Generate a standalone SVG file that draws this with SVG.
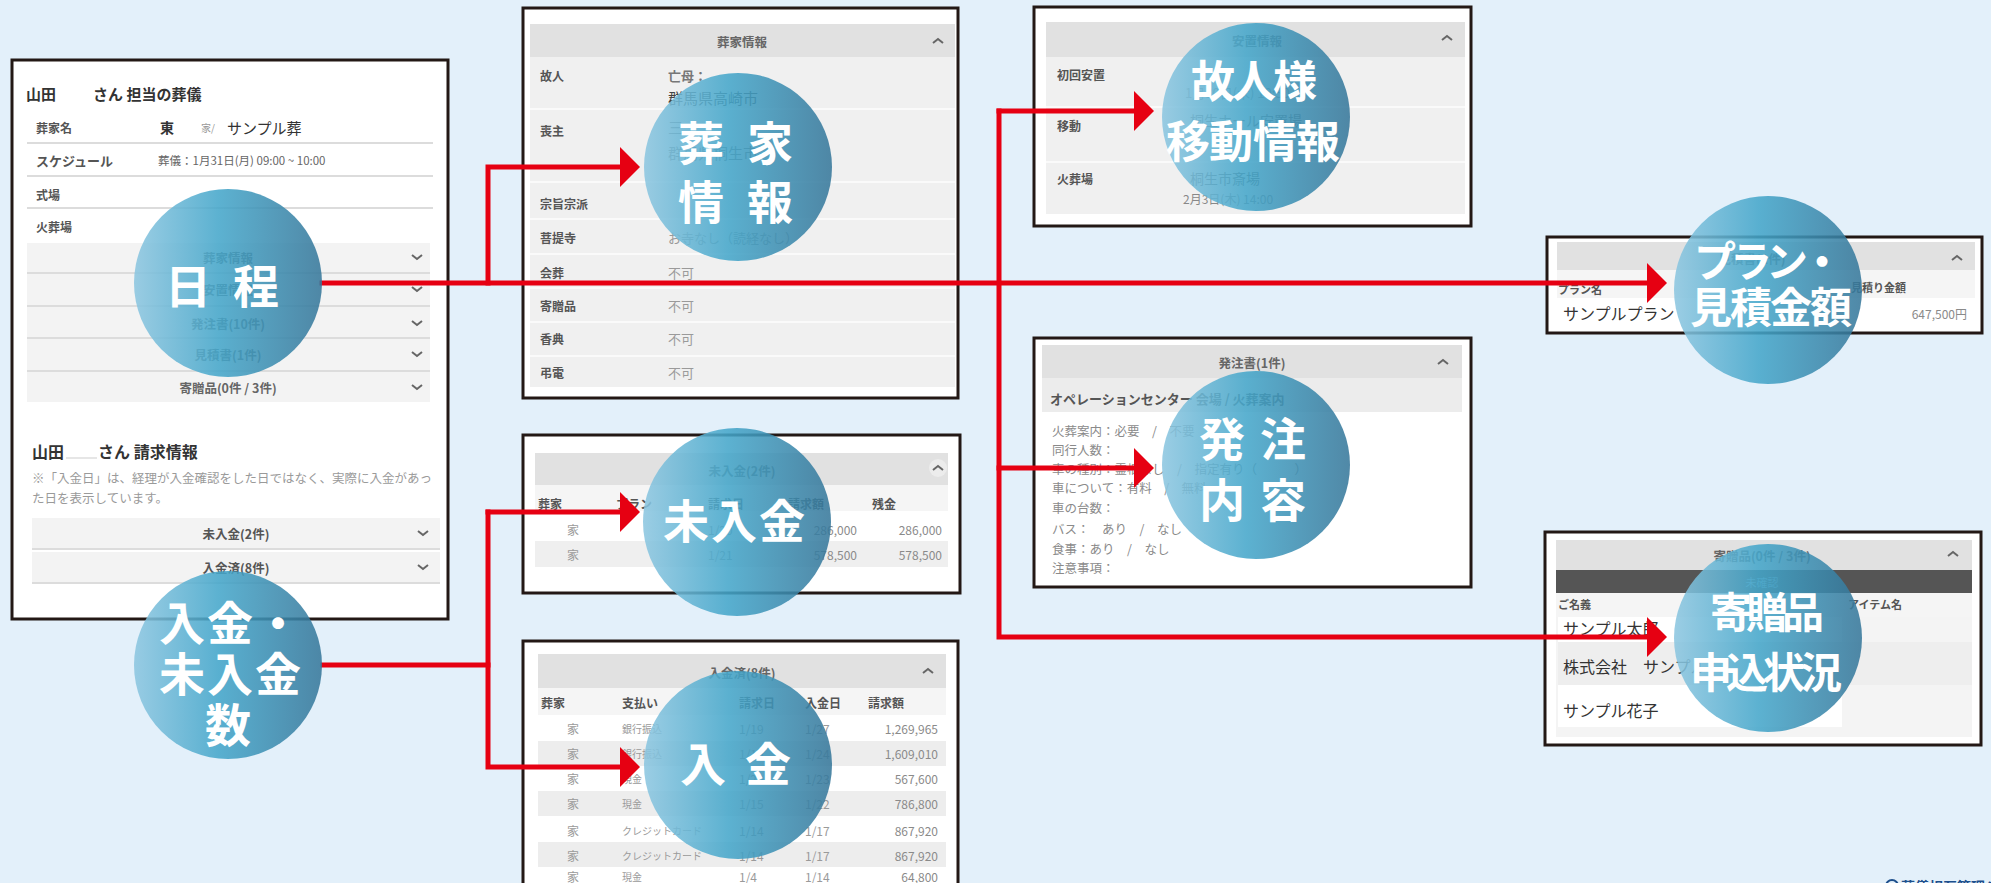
<svg xmlns="http://www.w3.org/2000/svg" width="1991" height="883" viewBox="0 0 1991 883">
<defs>
<style>
.panel{fill:#fff;stroke:#231815;stroke-width:3}
.inner{fill:#f0f0f0}
.hdr{fill:#e1e1e1}
.colh{fill:#f5f5f5}
.alt{fill:#ededed}
.wht{fill:#fff}
.sep{stroke:#dcdcdc;stroke-width:2}
.wsep{stroke:#fafafa;stroke-width:2}
.t{font-family:"Noto Sans CJK JP","Noto Sans",sans-serif;dominant-baseline:central}
.lbl{font-size:12px;font-weight:700;fill:#555}
.val{font-size:12px;fill:#9a9a9a}
.dark{font-size:15px;fill:#333}
.ttl{font-size:12.5px;font-weight:700;fill:#666;text-anchor:middle}
.num{font-size:12px;fill:#8a8a8a;text-anchor:end}
.chev{stroke:#666;stroke-width:2;fill:none}
.conn{stroke:#e60012;stroke-width:5;fill:none;stroke-linecap:square}
.circ{fill:url(#cg);fill-opacity:0.87}
.ct{font-family:"Noto Sans CJK JP","Noto Sans CJK SC",sans-serif;font-weight:700;fill:#fff;text-anchor:middle;dominant-baseline:central}
</style>
<linearGradient id="cg" x1="0" y1="0" x2="1" y2="0">
<stop offset="0" stop-color="#8cc6e0"/>
<stop offset="0.45" stop-color="#44a6ca"/>
<stop offset="1" stop-color="#36779a"/>
</linearGradient>
<marker id="ah" markerUnits="userSpaceOnUse" markerWidth="20" markerHeight="40" viewBox="0 0 20 40" refX="0" refY="20" orient="auto">
<path d="M0,0 L20,20 L0,40 z" fill="#e60012"/>
</marker>
</defs>
<rect x="0" y="0" width="1991" height="883" fill="#e3f0fa"/>

<!-- Left panel -->
<g id="panel-schedule">
<rect class="panel" x="12" y="60" width="436" height="559"/>
<text class="t" x="26" y="93" style="font-size:15px;font-weight:700;fill:#333">山田</text>
<text class="t" x="93" y="93" style="font-size:15px;font-weight:700;fill:#333">さん 担当の葬儀</text>
<text class="t lbl" x="36" y="127">葬家名</text>
<text class="t" x="160" y="127" style="font-size:14px;font-weight:700;fill:#333">東</text>
<text class="t" x="201" y="127" style="font-size:10px;fill:#999">家/</text>
<text class="t dark" x="227" y="127">サンプル葬</text>
<line class="sep" x1="27" y1="143" x2="433" y2="143"/>
<text class="t lbl" x="36" y="160" style="font-size:13px">スケジュール</text>
<text class="t" x="158" y="160" style="font-size:11.5px;fill:#666">葬儀：1月31日(月) 09:00 ~ 10:00</text>
<line class="sep" x1="27" y1="176" x2="433" y2="176"/>
<text class="t lbl" x="36" y="194">式場</text>
<line class="sep" x1="27" y1="208" x2="433" y2="208"/>
<text class="t lbl" x="36" y="226">火葬場</text>
<rect class="inner" x="27" y="243" width="403" height="159" style="fill:#f3f3f3"/>
<line class="sep" x1="27" y1="273" x2="430" y2="273"/>
<line class="sep" x1="27" y1="306" x2="430" y2="306"/>
<line class="sep" x1="27" y1="338" x2="430" y2="338"/>
<line class="sep" x1="27" y1="371" x2="430" y2="371"/>
<text class="t ttl" x="228" y="257">葬家情報</text>
<text class="t ttl" x="228" y="289">安置情報</text>
<text class="t ttl" x="228" y="323">発注書(10件)</text>
<text class="t ttl" x="228" y="354">見積書(1件)</text>
<text class="t ttl" x="228" y="387">寄贈品(0件 / 3件)</text>
<path class="chev" d="M412,255 l5,4 l5,-4 M412,287 l5,4 l5,-4 M412,321 l5,4 l5,-4 M412,352 l5,4 l5,-4 M412,385 l5,4 l5,-4"/>
<text class="t" x="32" y="451" style="font-size:16px;font-weight:700;fill:#333">山田</text>
<line x1="66" y1="458" x2="97" y2="458" stroke="#e6e6e6" stroke-width="2"/>
<text class="t" x="98" y="451" style="font-size:16px;font-weight:700;fill:#333">さん 請求情報</text>
<text class="t" x="32" y="477" style="font-size:12.5px;fill:#9a9a9a">※「入金日」は、経理が入金確認をした日ではなく、実際に入金があっ</text>
<text class="t" x="32" y="497" style="font-size:12.5px;fill:#9a9a9a">た日を表示しています。</text>
<rect x="32" y="518" width="408" height="30" fill="#f3f3f3"/>
<line class="sep" x1="32" y1="549" x2="440" y2="549"/>
<rect x="32" y="552" width="408" height="31" fill="#f3f3f3"/>
<line class="sep" x1="32" y1="583" x2="440" y2="583"/>
<text class="t ttl" x="236" y="533" style="fill:#555">未入金(2件)</text>
<text class="t ttl" x="236" y="567" style="fill:#555">入金済(8件)</text>
<path class="chev" d="M418,531 l5,4 l5,-4 M418,565 l5,4 l5,-4"/>
</g>

<!-- 葬家情報 panel -->
<g id="panel-family">
<rect class="panel" x="523" y="8" width="435" height="390"/>
<rect class="inner" x="530" y="24" width="425" height="363"/>
<rect class="hdr" x="530" y="24" width="425" height="33"/>
<text class="t ttl" x="742" y="41">葬家情報</text>
<path class="chev" d="M933,43 l5,-4 l5,4"/>
<g>
<line class="wsep" x1="530" y1="109" x2="955" y2="109"/>
<line class="wsep" x1="530" y1="182" x2="955" y2="182"/>
<line class="wsep" x1="530" y1="219" x2="955" y2="219"/>
<line class="wsep" x1="530" y1="254" x2="955" y2="254"/>
<line class="wsep" x1="530" y1="288" x2="955" y2="288"/>
<line class="wsep" x1="530" y1="322" x2="955" y2="322"/>
<line class="wsep" x1="530" y1="356" x2="955" y2="356"/>
</g>
<text class="t lbl" x="540" y="75">故人</text>
<text class="t lbl" x="540" y="130">喪主</text>
<text class="t lbl" x="540" y="203">宗旨宗派</text>
<text class="t lbl" x="540" y="237">菩提寺</text>
<text class="t lbl" x="540" y="272">会葬</text>
<text class="t lbl" x="540" y="305">寄贈品</text>
<text class="t lbl" x="540" y="338">香典</text>
<text class="t lbl" x="540" y="372">弔電</text>
<text class="t" x="668" y="75" style="font-size:13px;font-weight:700;fill:#777">亡母：</text>
<text class="t dark" x="668" y="97" style="fill:#444">群馬県高崎市</text>
<text class="t dark" x="668" y="126" style="fill:#777">三</text>
<text class="t dark" x="668" y="152" style="fill:#777">群馬県桐生市</text>
<text class="t val" x="668" y="237" style="font-size:13px">お寺なし（読経なし）</text>
<text class="t val" x="668" y="272" style="font-size:13px">不可</text>
<text class="t val" x="668" y="305" style="font-size:13px">不可</text>
<text class="t val" x="668" y="338" style="font-size:13px">不可</text>
<text class="t val" x="668" y="372" style="font-size:13px">不可</text>
</g>

<!-- 未入金 panel -->
<g id="panel-unpaid">
<rect class="panel" x="523" y="435" width="437" height="158"/>
<rect class="hdr" x="535" y="453" width="413" height="32"/>
<text class="t ttl" x="742" y="470">未入金(2件)</text>
<circle cx="938" cy="468" r="9" fill="#ececec"/>
<path class="chev" d="M933,470 l5,-4 l5,4"/>
<rect class="colh" x="535" y="485" width="413" height="26"/>
<text class="t lbl" x="538" y="503">葬家</text>
<text class="t lbl" x="616" y="503">プラン</text>
<text class="t lbl" x="708" y="503">請求日</text>
<text class="t lbl" x="788" y="503">請求額</text>
<text class="t lbl" x="872" y="503">残金</text>
<rect class="alt" x="535" y="541" width="413" height="26" style="fill:#efefef"/>
<text class="t val" x="567" y="529">家</text>
<text class="t val" x="708" y="529">1/20</text>
<text class="t num" x="857" y="529">286,000</text>
<text class="t num" x="942" y="529">286,000</text>
<text class="t val" x="567" y="554">家</text>
<text class="t val" x="708" y="554">1/21</text>
<text class="t num" x="857" y="554">578,500</text>
<text class="t num" x="942" y="554">578,500</text>
</g>

<!-- 入金 panel -->
<g id="panel-paid">
<rect class="panel" x="523" y="641" width="435" height="260"/>
<rect class="hdr" x="538" y="654" width="408" height="34"/>
<text class="t ttl" x="742" y="672">入金済(8件)</text>
<path class="chev" d="M923,673 l5,-4 l5,4"/>
<rect class="colh" x="538" y="688" width="408" height="27"/>
<text class="t lbl" x="541" y="702">葬家</text>
<text class="t lbl" x="622" y="702">支払い</text>
<text class="t lbl" x="739" y="702">請求日</text>
<text class="t lbl" x="805" y="702">入金日</text>
<text class="t lbl" x="868" y="702">請求額</text>
<rect class="alt" x="538" y="741" width="408" height="25"/>
<rect class="alt" x="538" y="791" width="408" height="25"/>
<rect class="alt" x="538" y="842" width="408" height="25"/>
<g class="val">
<text class="t val" x="567" y="728">家</text><text class="t val" x="622" y="728" style="font-size:10px">銀行振込</text><text class="t val" x="739" y="728">1/19</text><text class="t val" x="805" y="728">1/27</text><text class="t num" x="938" y="728">1,269,965</text>
<text class="t val" x="567" y="753">家</text><text class="t val" x="622" y="753" style="font-size:10px">銀行振込</text><text class="t val" x="739" y="753">1/19</text><text class="t val" x="805" y="753">1/24</text><text class="t num" x="938" y="753">1,609,010</text>
<text class="t val" x="567" y="778">家</text><text class="t val" x="622" y="778" style="font-size:10px">現金</text><text class="t val" x="739" y="778">1/20</text><text class="t val" x="805" y="778">1/23</text><text class="t num" x="938" y="778">567,600</text>
<text class="t val" x="567" y="803">家</text><text class="t val" x="622" y="803" style="font-size:10px">現金</text><text class="t val" x="739" y="803">1/15</text><text class="t val" x="805" y="803">1/22</text><text class="t num" x="938" y="803">786,800</text>
<text class="t val" x="567" y="830">家</text><text class="t val" x="622" y="830" style="font-size:10px">クレジットカード</text><text class="t val" x="739" y="830">1/14</text><text class="t val" x="805" y="830">1/17</text><text class="t num" x="938" y="830">867,920</text>
<text class="t val" x="567" y="855">家</text><text class="t val" x="622" y="855" style="font-size:10px">クレジットカード</text><text class="t val" x="739" y="855">1/14</text><text class="t val" x="805" y="855">1/17</text><text class="t num" x="938" y="855">867,920</text>
<text class="t val" x="567" y="876">家</text><text class="t val" x="622" y="876" style="font-size:10px">現金</text><text class="t val" x="739" y="876">1/4</text><text class="t val" x="805" y="876">1/14</text><text class="t num" x="938" y="876">64,800</text>
</g>
</g>

<!-- 安置情報 panel -->
<g id="panel-transfer">
<rect class="panel" x="1034" y="7" width="437" height="219"/>
<rect class="inner" x="1046" y="22" width="419" height="192"/>
<rect class="hdr" x="1046" y="22" width="419" height="35"/>
<text class="t ttl" x="1257" y="40">安置情報</text>
<path class="chev" d="M1442,40 l5,-4 l5,4"/>
<line class="wsep" x1="1046" y1="107" x2="1465" y2="107"/>
<line class="wsep" x1="1046" y1="162" x2="1465" y2="162"/>
<text class="t lbl" x="1057" y="74">初回安置</text>
<text class="t val" x="1185" y="92" style="font-size:13px">1月30日(木) 10:30</text>
<text class="t lbl" x="1057" y="125">移動</text>
<text class="t val" x="1190" y="120" style="font-size:14px;fill:#777">桐生ホール安置場</text>
<text class="t lbl" x="1057" y="178">火葬場</text>
<text class="t" x="1190" y="178" style="font-size:14px;fill:#666">桐生市斎場</text>
<text class="t" x="1183" y="198" style="font-size:12px;fill:#888">2月3日(木) 14:00</text>
</g>

<!-- 発注書 panel -->
<g id="panel-order">
<rect class="panel" x="1034" y="338" width="437" height="249"/>
<rect class="hdr" x="1042" y="345" width="420" height="33"/>
<text class="t ttl" x="1252" y="362">発注書(1件)</text>
<path class="chev" d="M1438,364 l5,-4 l5,4"/>
<rect x="1042" y="378" width="420" height="34" fill="#ececec"/>
<text class="t" x="1050" y="398" style="font-size:13px;font-weight:700;fill:#555">オペレーションセンター 会場 / 火葬案内</text>
<g style="font-size:12.5px;fill:#8a8a8a">
<text class="t" x="1052" y="430">火葬案内：必要　/　不要</text>
<text class="t" x="1052" y="449">同行人数：</text>
<text class="t" x="1052" y="468">車の種別：霊柩なし　/　指定有り（　　　）</text>
<text class="t" x="1052" y="487">車について：有料　/　無料</text>
<text class="t" x="1052" y="507">車の台数：</text>
<text class="t" x="1052" y="528">バス：　あり　/　なし</text>
<text class="t" x="1052" y="548">食事：あり　/　なし</text>
<text class="t" x="1052" y="567">注意事項：</text>
</g>
</g>

<!-- 見積書 panel -->
<g id="panel-estimate">
<rect class="panel" x="1547" y="237" width="435" height="96"/>
<rect class="hdr" x="1557" y="242" width="418" height="28"/>
<text class="t ttl" x="1752" y="258">見積書(1件)</text>
<path class="chev" d="M1952,260 l5,-4 l5,4"/>
<rect class="colh" x="1557" y="270" width="418" height="28"/>
<text class="t lbl" x="1558" y="289" style="font-size:11px">プラン名</text>
<text class="t lbl" x="1851" y="287" style="font-size:11px">見積り金額</text>
<text class="t" x="1563" y="313" style="font-size:16px;fill:#333">サンプルプラン</text>
<text class="t num" x="1967" y="313">647,500円</text>
</g>

<!-- 寄贈品 panel -->
<g id="panel-gifts">
<rect class="panel" x="1545" y="532" width="436" height="213"/>
<rect x="1556" y="540" width="416" height="197" fill="#f4f4f4"/>
<rect class="hdr" x="1556" y="540" width="416" height="30"/>
<text class="t ttl" x="1762" y="555">寄贈品(0件 / 3件)</text>
<path class="chev" d="M1948,556 l5,-4 l5,4"/>
<rect x="1556" y="570" width="416" height="23" fill="#555"/>
<text class="t" x="1762" y="582" style="font-size:11px;fill:#8fb4c8;text-anchor:middle">未確認</text>
<rect class="colh" x="1556" y="593" width="416" height="24"/>
<text class="t lbl" x="1558" y="604" style="font-size:11px">ご名義</text>
<text class="t lbl" x="1848" y="604" style="font-size:11px">アイテム名</text>
<rect x="1558" y="617" width="284" height="25" fill="#fff"/>
<rect x="1558" y="642" width="414" height="43" fill="#eeeeee"/>
<rect x="1558" y="685" width="284" height="42" fill="#fff"/>
<text class="t" x="1563" y="628" style="font-size:16px;fill:#333">サンプル太郎</text>
<text class="t" x="1563" y="666" style="font-size:16px;fill:#333">株式会社　サンプル</text>
<text class="t" x="1563" y="710" style="font-size:16px;fill:#333">サンプル花子</text>
</g>

<!-- logo (cut off at the bottom edge) -->
<g id="logo">
<circle cx="1892" cy="886" r="6" fill="none" stroke="#1d4f8c" stroke-width="2"/>
<text x="1901" y="892" style="font-family:'Noto Sans CJK JP',sans-serif;font-size:14px;font-weight:700;fill:#1d4f8c">葬儀相互管理システム</text>
</g>

<!-- connectors -->
<g id="connectors">
<path class="conn" d="M322,283 H1647" marker-end="url(#ah)"/>
<path class="conn" d="M488,283 V167 H620" marker-end="url(#ah)"/>
<path class="conn" d="M999,111 H1134" marker-end="url(#ah)"/>
<path class="conn" d="M999,468 H1134" marker-end="url(#ah)"/>
<path class="conn" d="M999,111 V637 H1647" marker-end="url(#ah)"/>
<path class="conn" d="M323,665 H488"/>
<path class="conn" d="M488,512 H620" marker-end="url(#ah)"/>
<path class="conn" d="M488,512 V767 H620" marker-end="url(#ah)"/>
</g>

<!-- circle nodes -->
<g id="node-schedule">
<circle class="circ" cx="228" cy="283" r="94"/>
<text class="ct" x="188 256" y="283" style="font-size:46px">日程</text>
</g>
<g id="node-payment">
<circle class="circ" cx="228" cy="665" r="94"/>
<text class="ct" x="182 230 278" y="620" style="font-size:46px">入金・</text>
<text class="ct" x="182 230 278" y="671" style="font-size:46px">未入金</text>
<text class="ct" x="228" y="722" style="font-size:46px">数</text>
</g>
<g id="node-family">
<circle class="circ" cx="738" cy="167" r="94"/>
<text class="ct" x="701 770" y="140" style="font-size:46px">葬家</text>
<text class="ct" x="701 770" y="199" style="font-size:46px">情報</text>
</g>
<g id="node-unpaid">
<circle class="circ" cx="737" cy="522" r="94"/>
<text class="ct" x="686 734 782" y="518" style="font-size:46px">未入金</text>
</g>
<g id="node-paid">
<circle class="circ" cx="738" cy="765" r="94"/>
<text class="ct" x="703 768" y="761" style="font-size:46px">入金</text>
</g>
<g id="node-transfer">
<circle class="circ" cx="1256" cy="117" r="94"/>
<text class="ct" x="1213 1254 1295" y="79" style="font-size:44px">故人様</text>
<text class="ct" x="1188 1231 1275 1318" y="139" style="font-size:44px">移動情報</text>
</g>
<g id="node-order">
<circle class="circ" cx="1256" cy="465" r="94"/>
<text class="ct" x="1222 1283" y="436" style="font-size:46px">発注</text>
<text class="ct" x="1222 1283" y="497" style="font-size:46px">内容</text>
</g>
<g id="node-estimate">
<circle class="circ" cx="1768" cy="290" r="94"/>
<text class="ct" x="1715 1751 1787 1822" y="258" style="font-size:42px">プラン・</text>
<text class="ct" x="1711 1751 1791 1831" y="304" style="font-size:42px">見積金額</text>
</g>
<g id="node-gifts">
<circle class="circ" cx="1768" cy="638" r="94"/>
<text class="ct" x="1731 1767 1803" y="609" style="font-size:42px">寄贈品</text>
<text class="ct" x="1711 1747 1784 1821" y="669" style="font-size:42px">申込状況</text>
</g>
</svg>
